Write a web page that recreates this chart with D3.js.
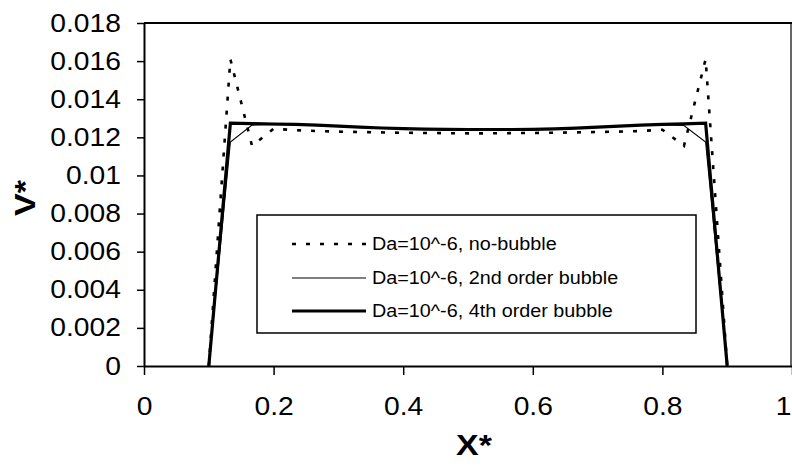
<!DOCTYPE html>
<html>
<head>
<meta charset="utf-8">
<script src="https://cdn.jsdelivr.net/npm/d3@7"></script>
<style>
  html, body { margin: 0; padding: 0; background: #fff; }
  svg { display: block; }
  text { font-family: "Liberation Sans", Arial, Helvetica, sans-serif; fill: #000; }
</style>
</head>
<body>
<svg id="chart" width="792" height="472"></svg>
<script>
// Nodal positions along the channel (dimensionless X*)
const xStar = [0.1, 0.1333, 0.1667, 0.2, 0.2333, 0.2667, 0.3, 0.3333, 0.3667, 0.4,
  0.4333, 0.4667, 0.5, 0.5333, 0.5667, 0.6, 0.6333, 0.6667, 0.7, 0.7333,
  0.7667, 0.8, 0.8333, 0.8667, 0.9];

// Velocity profiles V* for Da = 10^-6
const noBubble = [0, 0.0161, 0.01155, 0.01245, 0.01238, 0.01233, 0.0123, 0.01228, 0.01226, 0.01224,
  0.01223, 0.01222, 0.01221, 0.01221, 0.01222, 0.01223, 0.01224, 0.01226, 0.01228, 0.0123,
  0.01233, 0.0124, 0.01155, 0.0161, 0];
const bubble2nd = [0, 0.01175, 0.01264, 0.01268, 0.01266, 0.01262, 0.01257, 0.01252, 0.01248, 0.01245,
  0.01242, 0.01241, 0.0124, 0.0124, 0.0124, 0.01241, 0.01243, 0.01247, 0.01252, 0.01257,
  0.01262, 0.01266, 0.01262, 0.01175, 0];
const bubble4th = [0, 0.01275, 0.01272, 0.0127, 0.01268, 0.01264, 0.01259, 0.01254, 0.01249, 0.01246,
  0.01243, 0.01242, 0.01241, 0.01241, 0.01241, 0.01242, 0.01244, 0.01248, 0.01254, 0.01259,
  0.01264, 0.01268, 0.01271, 0.01275, 0];

const seriesNames = ["Da=10^-6, no-bubble", "Da=10^-6, 2nd order bubble", "Da=10^-6, 4th order bubble"];

// Axis ticks
const xTickValues = [0, 0.2, 0.4, 0.6, 0.8, 1];
const xTickLabels = ["0", "0.2", "0.4", "0.6", "0.8", "1"];
const yTickValues = [0, 0.002, 0.004, 0.006, 0.008, 0.01, 0.012, 0.014, 0.016, 0.018];
const yTickLabels = ["0", "0.002", "0.004", "0.006", "0.008", "0.01", "0.012", "0.014", "0.016", "0.018"];

const svg = d3.select("#chart");
const plot = { left: 144, right: 792, top: 23, bottom: 366 };

const x = d3.scaleLinear().domain([0, 1]).range([plot.left, plot.right]);
const y = d3.scaleLinear().domain([0, 0.018]).range([plot.bottom, plot.top]);

svg.append("rect").attr("width", 792).attr("height", 472).attr("fill", "#fff");

// Frame: top and right edges of the plot area
svg.append("line")
  .attr("x1", plot.left).attr("x2", plot.right)
  .attr("y1", plot.top).attr("y2", plot.top)
  .attr("stroke", "#000").attr("stroke-width", 2);
svg.append("line")
  .attr("x1", plot.right - 1).attr("x2", plot.right - 1)
  .attr("y1", plot.top).attr("y2", plot.bottom)
  .attr("stroke", "#000").attr("stroke-width", 1.2);

// Axes
const xAxis = d3.axisBottom(x)
  .tickValues(xTickValues)
  .tickFormat((d, i) => xTickLabels[i])
  .tickSizeInner(9).tickSizeOuter(0).tickPadding(22);
const yAxis = d3.axisLeft(y)
  .tickValues(yTickValues)
  .tickFormat((d, i) => yTickLabels[i])
  .tickSizeInner(7).tickSizeOuter(0).tickPadding(16);

const gx = svg.append("g").attr("transform", `translate(0,${plot.bottom})`).call(xAxis);
const gy = svg.append("g").attr("transform", `translate(${plot.left},0)`).call(yAxis);

[gx, gy].forEach(g => {
  g.select(".domain").attr("stroke", "#000").attr("stroke-width", 2);
  g.selectAll(".tick line").attr("stroke", "#000").attr("stroke-width", 1.5);
  g.selectAll(".tick text")
    .attr("font-family", "Liberation Sans, Arial, sans-serif")
    .attr("font-size", 25)
    .attr("fill", "#000");
});

// The last x label sits at the right edge of the page: keep it inside
gx.selectAll(".tick text")
  .filter(d => d === 1)
  .attr("text-anchor", "end")
  .attr("x", -1);

// Axis titles
svg.append("text")
  .attr("x", 474).attr("y", 455)
  .attr("text-anchor", "middle")
  .attr("font-size", 30).attr("font-weight", "bold")
  .text("X*");
svg.append("text")
  .attr("transform", "translate(35,198) rotate(-90)")
  .attr("text-anchor", "middle")
  .attr("font-size", 30).attr("font-weight", "bold")
  .text("V*");

// Profiles
const series = [
  { name: seriesNames[0], values: noBubble, width: 2.6, dash: "4 10" },
  { name: seriesNames[1], values: bubble2nd, width: 1.1, dash: null },
  { name: seriesNames[2], values: bubble4th, width: 3.2, dash: null }
];

const line = d3.line()
  .x((d, i) => x(xStar[i]))
  .y(d => y(d));

series.forEach(s => {
  svg.append("path")
    .datum(s.values)
    .attr("d", line)
    .attr("fill", "none")
    .attr("stroke", "#000")
    .attr("stroke-width", s.width)
    .attr("stroke-linejoin", "miter")
    .attr("stroke-dasharray", s.dash);
});

// Legend
const legend = svg.append("g");
legend.append("rect")
  .attr("x", 257).attr("y", 215)
  .attr("width", 439).attr("height", 118)
  .attr("fill", "#fff")
  .attr("stroke", "#000").attr("stroke-width", 1.5);

const rowY = [244, 278, 311];
series.forEach((s, i) => {
  legend.append("line")
    .attr("x1", 292).attr("x2", 366)
    .attr("y1", rowY[i]).attr("y2", rowY[i])
    .attr("stroke", "#000")
    .attr("stroke-width", s.width)
    .attr("stroke-dasharray", s.dash);
  legend.append("text")
    .attr("x", 372).attr("y", rowY[i])
    .attr("dy", "0.35em")
    .attr("font-size", 17.5)
    .text(s.name);
});

// Slightly widen every label's glyphs to the typeface proportions used in the figure
svg.selectAll("text").each(function () {
  const len = this.getComputedTextLength();
  if (len > 0) {
    d3.select(this)
      .attr("textLength", len * 1.13)
      .attr("lengthAdjust", "spacingAndGlyphs");
  }
});
</script>
</body>
</html>
